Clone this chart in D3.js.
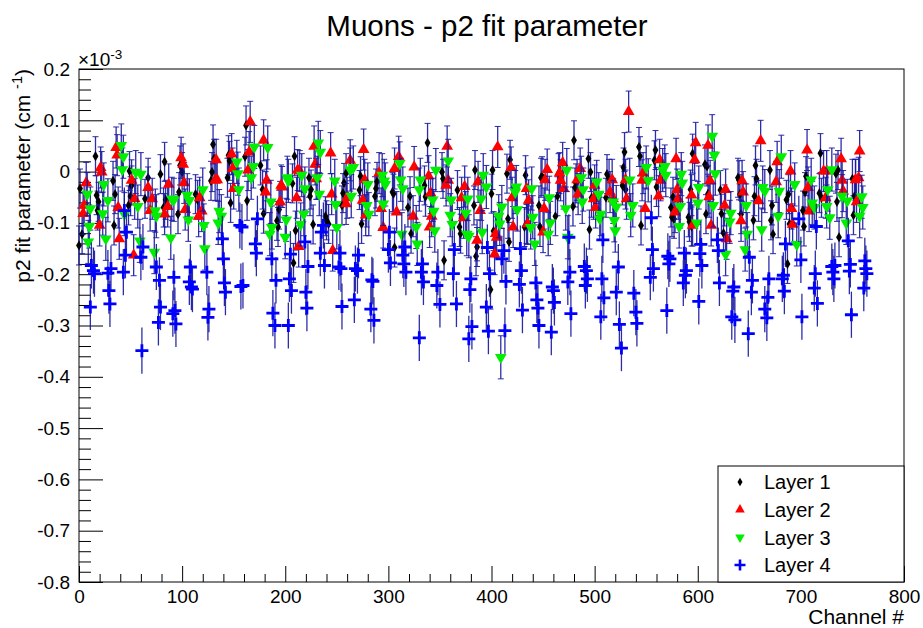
<!DOCTYPE html>
<html>
<head>
<meta charset="utf-8">
<script src="https://cdn.jsdelivr.net/npm/d3@7"></script>
<style>
  body { margin: 0; background: #fff; }
  text { font-family: "Liberation Sans", Arial, sans-serif; fill: #000; }
</style>
</head>
<body>
<div id="chart"></div>
<script>
// values are in units of 1e-3 (cm^-1), channel on x
const layer1 = [
  [0,-0.144],[1,-0.033],[3,-0.122],[16,0.030],[17,-0.046],[19,-0.059],[18,-0.076],[33,-0.018],[35,-0.044],[34,-0.105],
  [49,0.001],[51,-0.027],[50,-0.048],[48,-0.066],[64,-0.053],[67,-0.012],[79,-0.005],[83,0.019],[84,-0.055],[82,-0.070],
  [96,-0.083],[98,0.012],[100,-0.001],[97,-0.040],[113,-0.044],[115,-0.055],
  [130,0.053],[131,0.025],[129,-0.001],[128,-0.018],[145,0.032],[146,0.021],[144,-0.012],[147,-0.061],[161,0.029],[162,0.090],
  [163,-0.057],[176,0.012],[178,-0.035],[179,-0.082],[194,-0.074],[192,-0.096],[193,-0.108],[209,0.030],[207,-0.023],[210,-0.115],
  [208,-0.178],[223,-0.012],[225,-0.035],[224,-0.048],[227,-0.103],[239,-0.087],[240,-0.095],[242,-0.102],[257,-0.022],[256,-0.042],[255,-0.066],
  [259,-0.003],[273,-0.009],[272,-0.036],[274,-0.102],[288,-0.033],[287,-0.048],[289,-0.020],[304,-0.040],[305,-0.043],[306,-0.148],
  [319,-0.070],[321,-0.048],[322,-0.121],[335,-0.027],[336,-0.049],[338,0.056],[352,-0.001],[353,-0.014],[354,-0.173],[367,-0.036],
  [369,-0.108],[370,-0.121],[383,-0.066],[384,0.003],[385,-0.165],[386,-0.147],
  [401,0.003],[400,-0.043],[402,-0.116],[399,-0.230],[415,-0.004],[416,-0.092],[417,-0.137],[418,0.023],[433,-0.007],[432,-0.108],
  [434,-0.102],[448,-0.012],[449,-0.009],[447,-0.108],[446,-0.066],[464,-0.048],[462,-0.087],[465,-0.003],[480,0.061],[481,-0.031],
  [479,-0.068],[482,-0.023],[494,0.025],[496,-0.001],[495,-0.113],[497,-0.051],[512,-0.005],[511,-0.051],[514,-0.014],
  [529,0.038],[528,0.008],[527,-0.027],[530,-0.035],[543,0.048],[544,0.030],[545,-0.105],[559,0.042],[558,0.022],[560,-0.030],
  [576,-0.049],[574,-0.070],[575,-0.089],[577,-0.092],[591,-0.089],[592,-0.098],[594,-0.107],[593,-0.035],[595,0.035],[607,0.014],
  [609,0.010],[608,-0.083],[610,-0.043],[622,-0.036],[623,-0.082],[625,-0.120],[639,-0.012],[640,-0.017],[641,-0.044],[642,-0.083],
  [656,0.012],[657,-0.014],[655,-0.048],[654,-0.095],[670,0.003],[672,-0.066],[671,-0.095],[673,-0.122],[687,-0.180],[686,-0.055],
  [688,-0.044],[689,-0.102],[703,-0.107],[702,-0.076],[705,-0.009],[704,-0.040],[718,-0.042],[720,-0.051],[719,0.036],[734,-0.004],
  [736,0.003],[735,-0.059],[737,-0.128],[750,-0.014],[752,-0.048],[751,-0.085],[753,-0.014]
];

const layer2 = [
  [7,-0.022],[5,-0.066],[4,-0.082],[21,0.008],[22,-0.001],[20,-0.105],[36,0.047],[37,0.032],[38,-0.070],[39,-0.131],
  [53,-0.163],[51,-0.017],[54,-0.053],[67,-0.031],[69,-0.076],[71,-0.053],[83,-0.083],[87,-0.025],[86,-0.068],[99,0.027],
  [101,0.014],[102,-0.022],[103,-0.074],[117,-0.051],[116,-0.087],[119,-0.077],
  [133,0.023],[134,-0.016],[132,-0.017],[148,0.034],[149,0.006],[150,-0.033],[165,0.038],[166,0.097],[164,0.003],[179,0.061],
  [182,-0.017],[181,-0.040],[196,-0.027],[197,-0.030],[195,-0.059],[212,0.003],[214,0.001],[211,-0.051],[213,-0.146],[228,0.049],
  [229,0.014],[230,-0.014],[244,0.036],[245,-0.044],[246,-0.154],
  [263,0.022],[260,-0.051],[259,-0.063],[276,0.043],[277,-0.016],[275,-0.056],[278,-0.085],[291,-0.003],[293,-0.072],[295,-0.109],
  [306,0.006],[310,0.029],[308,-0.079],[324,-0.087],[325,0.009],[339,-0.009],[341,-0.042],[340,-0.108],[342,-0.087],[357,0.049],
  [358,-0.017],[356,-0.027],[371,-0.051],[373,-0.090],[374,-0.029],[387,-0.020],[386,-0.134],[389,-0.076],
  [404,-0.121],[405,-0.128],[403,-0.161],[406,0.048],[419,0.008],[420,-0.051],[421,-0.108],[434,-0.033],[436,-0.056],[435,-0.102],
  [451,-0.072],[452,-0.016],[454,0.004],[450,-0.118],[466,-0.003],[467,-0.017],[469,0.017],[470,-0.033],[483,-0.016],[484,-0.044],
  [486,0.006],[500,-0.027],[501,-0.070],[499,-0.053],[515,-0.040],[517,-0.016],[518,-0.053],
  [533,0.117],[531,-0.053],[530,-0.016],[547,-0.003],[546,-0.017],[549,-0.072],[563,0.023],[564,-0.017],[562,-0.048],[579,0.025],
  [580,-0.035],[581,-0.053],[578,-0.079],[595,-0.105],[594,-0.046],[597,0.023],[598,0.056],[612,-0.018],[611,-0.049],[610,0.051],
  [613,-0.105],[627,-0.035],[626,-0.066],[628,-0.131],[643,-0.018],[642,-0.096],[644,-0.040],
  [661,0.060],[659,-0.057],[676,-0.020],[677,0.019],[690,0.001],[691,-0.072],[692,-0.103],[706,0.042],[707,-0.031],[708,-0.077],
  [722,0.001],[724,-0.051],[725,0.001],[739,0.025],[740,-0.017],[741,-0.038],[753,-0.016],[756,-0.012],[754,-0.059],[757,0.040]
];

const layer3 = [
  [8,-0.044],[11,-0.072],[10,-0.107],[9,-0.137],[24,-0.025],[28,-0.056],[23,-0.082],[26,-0.131],[41,0.051],[43,0.029],
  [42,0.004],[44,-0.083],[55,-0.001],[60,-0.005],[57,-0.068],[59,-0.135],[73,-0.157],[74,-0.076],[75,-0.087],[90,-0.053],
  [89,-0.129],[92,-0.055],[105,-0.046],[107,-0.056],[106,-0.094],[120,-0.035],[121,-0.105],[122,-0.150],
  [136,-0.077],[138,-0.087],[135,-0.100],[153,0.019],[154,-0.004],[155,-0.035],[170,0.048],[169,0.010],[167,-0.012],[183,0.047],
  [186,-0.059],[187,-0.109],[185,-0.122],[202,-0.012],[203,-0.018],[201,-0.094],[200,-0.128],[216,-0.007],[219,-0.033],[218,-0.083],
  [215,-0.103],[232,0.056],[234,0.038],[231,-0.012],[233,-0.044],[248,-0.018],[249,-0.064],[250,-0.109],
  [263,0.004],[266,0.008],[264,-0.048],[280,-0.025],[279,-0.066],[281,-0.083],[294,-0.007],[296,-0.018],[297,-0.025],[295,-0.063],
  [311,0.016],[312,-0.016],[314,-0.033],[313,-0.122],[328,-0.141],[327,-0.108],[330,-0.035],[331,-0.016],[346,0.003],[343,-0.055],
  [344,-0.077],[345,-0.115],[358,0.021],[361,-0.055],[360,-0.085],[362,-0.103],[376,-0.122],[377,-0.053],[378,-0.126],[375,-0.081],
  [392,-0.007],[395,-0.030],[390,-0.053],[391,-0.118],[410,-0.069],[407,-0.087],[408,-0.102],[409,-0.362],[424,-0.030],[423,-0.040],
  [425,-0.074],[439,-0.033],[440,-0.089],[438,-0.109],[442,-0.141],[456,-0.051],[457,-0.100],[455,-0.122],[473,0.003],[472,-0.072],
  [474,-0.128],[487,-0.012],[489,-0.035],[488,-0.059],[502,-0.020],[504,-0.044],[505,-0.092],[506,-0.083],[518,-0.059],[519,-0.095],[520,-0.115],
  [521,-0.069],[534,-0.016],[537,-0.066],[535,-0.085],[550,0.008],[552,-0.017],[568,0.010],[569,-0.007],[566,0.003],[584,-0.005],
  [585,-0.022],[583,-0.068],[582,-0.107],[601,-0.031],[599,-0.100],[600,-0.061],[614,0.069],[616,0.032],[617,-0.004],[615,-0.066],
  [627,-0.161],[631,-0.098],[632,-0.081],[647,-0.066],[648,-0.122],[646,-0.152],
  [663,-0.031],[665,-0.038],[662,-0.113],[679,-0.038],[678,-0.087],[681,0.029],[694,-0.025],[696,-0.142],[710,-0.016],[713,-0.070],
  [711,-0.061],[726,-0.035],[728,-0.090],[725,-0.068],[730,0.004],[740,-0.048],[744,-0.100],[745,-0.057],[759,-0.049],[760,-0.070],[757,-0.087]
];

const layer4 = [
  [12,-0.183],[14,-0.193],[15,-0.199],[11,-0.264],[28,-0.198],[31,-0.189],[29,-0.232],[30,-0.258],[44,-0.076],[46,-0.118],
  [45,-0.163],[43,-0.196],[62,-0.147],[60,-0.167],[61,-0.349],[75,-0.186],[78,-0.212],[79,-0.264],[77,-0.294],[92,-0.206],
  [93,-0.271],[91,-0.277],[94,-0.297],[108,-0.186],[107,-0.215],[109,-0.225],[110,-0.229],[124,-0.196],[126,-0.268],[125,-0.284],
  [139,-0.131],[140,-0.170],[141,-0.217],[142,-0.235],[156,-0.105],[158,-0.108],[159,-0.222],[157,-0.224],[173,-0.092],[171,-0.141],
  [172,-0.159],[187,-0.170],[191,-0.212],[188,-0.276],[190,-0.300],[203,-0.300],[205,-0.161],[204,-0.209],[206,-0.232],[219,-0.137],
  [222,-0.185],[220,-0.235],[221,-0.266],[237,-0.105],[235,-0.118],[234,-0.159],[238,-0.183],[253,-0.159],[252,-0.186],[254,-0.189],[255,-0.263],
  [271,-0.163],[268,-0.189],[270,-0.193],[267,-0.250],[284,-0.211],[285,-0.214],[283,-0.268],[286,-0.290],[301,-0.118],[300,-0.152],
  [302,-0.178],[316,-0.147],[314,-0.163],[315,-0.180],[317,-0.196],[333,-0.180],[332,-0.196],[334,-0.215],[330,-0.324],[348,-0.196],
  [347,-0.222],[350,-0.259],[364,-0.152],[363,-0.199],[366,-0.258],[380,-0.209],[379,-0.230],[381,-0.302],[378,-0.326],
  [396,-0.148],[398,-0.199],[395,-0.264],[397,-0.311],[412,-0.154],[410,-0.170],[414,-0.214],[413,-0.310],[428,-0.150],[429,-0.193],
  [427,-0.220],[430,-0.270],[443,-0.217],[444,-0.250],[445,-0.266],[446,-0.300],[459,-0.225],[460,-0.232],[461,-0.255],[458,-0.313],
  [475,-0.128],[476,-0.196],[474,-0.215],[477,-0.277],[490,-0.185],[492,-0.193],[493,-0.209],[491,-0.222],[508,-0.133],[507,-0.209],
  [509,-0.246],[506,-0.283],
  [523,-0.186],[521,-0.235],[524,-0.298],[526,-0.344],[538,-0.237],[540,-0.274],[541,-0.296],[555,-0.090],[556,-0.152],[557,-0.189],
  [554,-0.206],[571,-0.165],[573,-0.170],[572,-0.180],[570,-0.271],[587,-0.159],[589,-0.193],[588,-0.202],[586,-0.217],[603,-0.142],
  [602,-0.160],[604,-0.183],[601,-0.253],[619,-0.133],[620,-0.154],[621,-0.217],[635,-0.225],[634,-0.233],[633,-0.283],[636,-0.289],
  [650,-0.167],[653,-0.212],[652,-0.235],[649,-0.316],[669,-0.209],[668,-0.245],[665,-0.268],[667,-0.285],[683,-0.202],[682,-0.209],
  [684,-0.233],[685,-0.141],[698,-0.092],[700,-0.172],[701,-0.283],[714,-0.199],[713,-0.227],[716,-0.257],[715,-0.107],[730,-0.185],
  [731,-0.196],[732,-0.209],[733,-0.183],[746,-0.135],[748,-0.181],[747,-0.194],[749,-0.279],[762,-0.174],[763,-0.189],[764,-0.199],[761,-0.227]
];

// typical error bar half-size per layer
const layerErrors = [0.038, 0.040, 0.042, 0.045];
const layerNames = ["Layer 1", "Layer 2", "Layer 3", "Layer 4"];
const layerColors = ["#000000", "#ff0000", "#00ee00", "#0000ff"];
const xTicks = [0, 100, 200, 300, 400, 500, 600, 700, 800];
const yTicks = [0.2, 0.1, 0, -0.1, -0.2, -0.3, -0.4, -0.5, -0.6, -0.7, -0.8];

const width = 923, height = 628;
const plot = { left: 79, right: 904, top: 69, bottom: 582 };

const svg = d3.select("#chart").append("svg")
    .attr("width", width)
    .attr("height", height);

svg.append("rect").attr("width", width).attr("height", height).attr("fill", "#fff");

const xScale = d3.scaleLinear().domain([0, 800]).range([plot.left, plot.right]);
const yScale = d3.scaleLinear().domain([-0.8, 0.2]).range([plot.bottom, plot.top]);

// minor ticks
const xMinor = d3.range(0, 801, 20).filter(v => v % 100 !== 0);
const yMinor = d3.range(-40, 11).map(v => v / 50).filter(v => Math.abs(v * 10 - Math.round(v * 10)) > 1e-6);

svg.append("g")
    .attr("transform", "translate(0," + plot.bottom + ")")
    .call(d3.axisBottom(xScale).tickValues(xMinor).tickSize(-8).tickFormat(""))
    .call(g => g.select(".domain").remove());

svg.append("g")
    .attr("transform", "translate(" + plot.left + ",0)")
    .call(d3.axisLeft(yScale).tickValues(yMinor).tickSize(-12).tickFormat(""))
    .call(g => g.select(".domain").remove());

// major ticks with labels
svg.append("g")
    .attr("transform", "translate(0," + plot.bottom + ")")
    .call(d3.axisBottom(xScale).tickValues(xTicks).tickSize(-16).tickPadding(8).tickFormat(d => d))
    .call(g => g.select(".domain").remove())
    .selectAll("text").style("font-size", "19px").style("font-family", "'Liberation Sans', Arial, sans-serif");

svg.append("g")
    .attr("transform", "translate(" + plot.left + ",0)")
    .call(d3.axisLeft(yScale).tickValues(yTicks).tickSize(-24).tickPadding(9)
        .tickFormat(d => d === 0 ? "0" : d.toFixed(1)))
    .call(g => g.select(".domain").remove())
    .selectAll("text").style("font-size", "19px").style("font-family", "'Liberation Sans', Arial, sans-serif");

svg.selectAll(".tick line").attr("stroke", "#000");

// frame
svg.append("rect")
    .attr("x", plot.left).attr("y", plot.top)
    .attr("width", plot.right - plot.left).attr("height", plot.bottom - plot.top)
    .attr("fill", "none").attr("stroke", "#000").attr("stroke-width", 1);

// draw one layer: error bars then markers
const layers = [layer1, layer2, layer3, layer4];
const triUp = d3.symbol().type(d3.symbolTriangle).size(60)();
const diamond = d3.symbol().type(d3.symbolDiamond).size(30)();
const plus = "M-6.5,0H6.5M0,-6.5V6.5";

layers.forEach((data, i) => {
    const err = layerErrors[i];
    const g = svg.append("g").attr("class", "layer" + (i + 1));

    g.selectAll(".err")
        .data(data)
        .enter()
        .append("line")
        .attr("x1", d => xScale(d[0]))
        .attr("x2", d => xScale(d[0]))
        .attr("y1", d => yScale(d[1] + err))
        .attr("y2", d => yScale(d[1] - err))
        .attr("stroke", "#1616a0")
        .attr("stroke-opacity", 0.9)
        .attr("stroke-width", 1.3);

    if (i < 3) {
        [1, -1].forEach(s => {
            g.selectAll(".cap" + s)
                .data(data)
                .enter()
                .append("line")
                .attr("x1", d => xScale(d[0]) - 3)
                .attr("x2", d => xScale(d[0]) + 3)
                .attr("y1", d => yScale(d[1] + s * err))
                .attr("y2", d => yScale(d[1] + s * err))
                .attr("stroke", "#1616a0")
                .attr("stroke-opacity", 0.9)
                .attr("stroke-width", 1);
        });
    }

    const marks = g.selectAll(".mark")
        .data(data)
        .enter()
        .append("path")
        .attr("transform", d => "translate(" + xScale(d[0]) + "," + yScale(d[1]) + ")" + (i === 2 ? " rotate(180)" : ""));

    if (i === 0) marks.attr("d", diamond).attr("fill", layerColors[0]);
    if (i === 1 || i === 2) marks.attr("d", triUp).attr("fill", layerColors[i]);
    if (i === 3) marks.attr("d", plus).attr("stroke", layerColors[3]).attr("stroke-width", 2.8).attr("fill", "none");
});

// title
svg.append("text")
    .attr("x", 487).attr("y", 36)
    .attr("text-anchor", "middle")
    .style("font-size", "29.5px")
    .text("Muons - p2 fit parameter");

// exponent label
const expo = svg.append("text").attr("x", 78).attr("y", 66).style("font-size", "19px");
expo.append("tspan").text("\u00d710");
expo.append("tspan").attr("dy", -7).style("font-size", "13.5px").text("-3");

// axis titles
svg.append("text")
    .attr("x", plot.right).attr("y", 624)
    .attr("text-anchor", "end")
    .style("font-size", "21px")
    .text("Channel #");

const yTitle = svg.append("text")
    .attr("transform", "translate(30," + plot.top + ") rotate(-90)")
    .attr("text-anchor", "end")
    .style("font-size", "21px");
yTitle.append("tspan").text("p2 fit parameter (cm ");
yTitle.append("tspan").attr("dy", -8).style("font-size", "14.5px").text("-1");
yTitle.append("tspan").attr("dy", 8).text(")");

// legend
const legend = svg.append("g").attr("class", "legend");
legend.append("rect")
    .attr("x", 718).attr("y", 466)
    .attr("width", plot.right - 718).attr("height", plot.bottom - 466)
    .attr("fill", "#fff").attr("stroke", "#000");

const legendY = d3.scalePoint().domain(layerNames).range([482, 565]);

layerNames.forEach((name, i) => {
    const y = legendY(name);
    const m = legend.append("path")
        .attr("transform", "translate(740," + y + ")" + (i === 2 ? " rotate(180)" : ""));
    if (i === 0) m.attr("d", d3.symbol().type(d3.symbolDiamond).size(22)()).attr("fill", layerColors[0]);
    if (i === 1 || i === 2) m.attr("d", d3.symbol().type(d3.symbolTriangle).size(40)()).attr("fill", layerColors[i]);
    if (i === 3) m.attr("d", "M-5.5,0H5.5M0,-5.5V5.5").attr("stroke", layerColors[3]).attr("stroke-width", 2.6);
    legend.append("text")
        .attr("x", 764).attr("y", y)
        .attr("dy", "0.36em")
        .style("font-size", "20px")
        .text(name);
});
</script>
</body>
</html>
